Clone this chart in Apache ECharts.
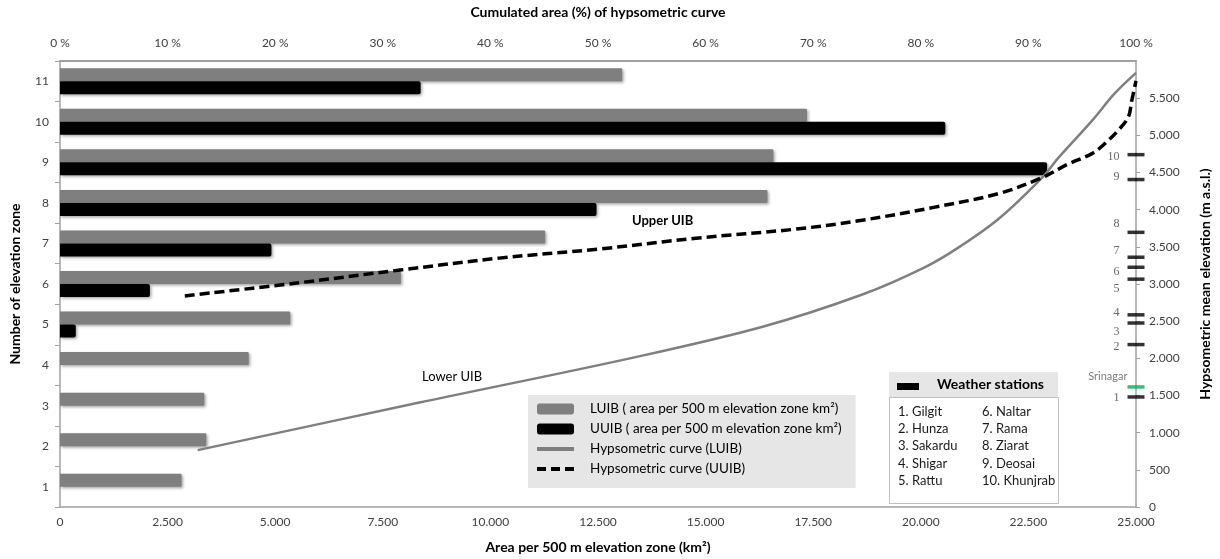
<!DOCTYPE html>
<html><head><meta charset="utf-8">
<script src="https://cdn.jsdelivr.net/npm/echarts@6/dist/echarts.min.js"></script>
<style>html,body{margin:0;padding:0;background:#fff}#c{width:1220px;height:559px}</style>
</head><body><div id="c"></div><script>
// ---- data ----
const categories = ['1','2','3','4','5','6','7','8','9','10','11'];
const luibArea = [2824, 3398, 3352, 4385, 5349, 7920, 11272, 16437, 16575, 17355, 13062];
const uuibArea = [null, null, null, null, 367, 2089, 4913, 12466, 22934, 20569, 8379];

const luibCurvePct  = [12.8, 33.4, 53.6, 65.3, 74.5, 80.5, 83.7, 87.3, 91.3, 92.8, 95.9, 98.0, 100];
const luibCurveElev = [765, 1405, 2020, 2425, 2855, 3235, 3510, 3885, 4435, 4700, 5195, 5560, 5840];

const uuibCurvePct  = [11.6, 22.0, 31.6, 40.8, 50.0, 59.1, 68.3, 74.5, 81.2, 87.3, 91.3, 93.6, 95.9, 97.1, 98.4, 99.3, 99.6, 100];
const uuibCurveElev = [2840, 3013, 3188, 3348, 3469, 3616, 3737, 3857, 4031, 4219, 4433, 4607, 4754, 4888, 5076, 5250, 5464, 5732];

const stationNumbers = ['1','2','3','4','5','6','7','8','9','10'];
const stationElev = [1480, 2185, 2475, 2585, 3065, 3225, 3360, 3695, 4405, 4740];
const stationNames = ['1. Gilgit','2. Hunza','3. Sakardu','4. Shigar','5. Rattu','6. Naltar','7. Rama','8. Ziarat','9. Deosai','10. Khunjrab'];
const srinagarName = 'Srinagar';
const srinagarElev = 1615;

const areaAxis = {min: 0, max: 25000, interval: 2500};
const pctAxis = {min: 0, max: 100, interval: 10};
const elevAxis = {min: 0, max: 6000, interval: 500};

// ---- styling (not data) ----
const stationLabelDy = [1, 2, 9, -2, 10, 5, -6, -8, -3, 2];
const FONT = 'Lato';
const AXIS_COLOR = '#a0a0a0';
const LABEL_COLOR = '#404040';
const NAME_STYLE = {fontFamily: FONT, fontSize: 14, fontWeight: 'bold', color: '#000'};

function fmt(v) { return String(v).replace(/\B(?=(\d{3})+(?!\d))/g, '.'); }
function zip(a, b) { return a.map((v, i) => [v, b[i]]); }

const chart = echarts.init(document.getElementById('c'), null, {renderer: 'canvas'});

const barShadow = {shadowColor: 'rgba(0,0,0,0.35)', shadowBlur: 3, shadowOffsetX: 1.5, shadowOffsetY: 1.5};
const hiddenSymbol = {color: 'rgba(0,0,0,0)', borderColor: 'rgba(0,0,0,0)', borderWidth: 0, opacity: 0};

const option = {
  animation: false,
  backgroundColor: '#fff',
  textStyle: {fontFamily: FONT},
  grid: {left: 56, right: 75, top: 60, bottom: 51, containLabel: false},
  xAxis: [
    {
      type: 'value', position: 'bottom', min: areaAxis.min, max: areaAxis.max, interval: areaAxis.interval,
      name: 'Area per 500 m elevation zone (km²)', nameLocation: 'middle', nameGap: 33,
      nameTextStyle: NAME_STYLE,
      axisLine: {show: true, onZero: false, lineStyle: {color: AXIS_COLOR, width: 1.5}},
      axisTick: {show: false}, splitLine: {show: false},
      axisLabel: {margin: 9, fontFamily: FONT, fontSize: 12, color: LABEL_COLOR, formatter: v => fmt(v)}
    },
    {
      type: 'value', position: 'top', min: pctAxis.min, max: pctAxis.max, interval: pctAxis.interval,
      name: 'Cumulated area (%) of hypsometric curve', nameLocation: 'middle', nameGap: 42,
      nameTextStyle: NAME_STYLE,
      axisLine: {show: true, onZero: false, lineStyle: {color: AXIS_COLOR, width: 2}},
      axisTick: {show: false}, splitLine: {show: false},
      axisLabel: {margin: 12, fontFamily: FONT, fontSize: 12, color: LABEL_COLOR, formatter: '{value} %'}
    }
  ],
  yAxis: [
    {
      type: 'category', position: 'left', data: categories,
      name: 'Number of elevation zone', nameLocation: 'middle', nameGap: 38, nameRotate: 90,
      nameTextStyle: NAME_STYLE,
      axisLine: {show: true, onZero: false, lineStyle: {color: AXIS_COLOR, width: 1.5}},
      axisTick: {show: true, length: 5, lineStyle: {color: AXIS_COLOR}},
      axisLabel: {margin: 11, fontFamily: FONT, fontSize: 12, color: LABEL_COLOR},
      splitLine: {show: false}
    },
    {
      type: 'value', position: 'right', min: elevAxis.min, max: elevAxis.max, interval: elevAxis.interval,
      name: 'Hypsometric mean elevation (m a.s.l.)', nameLocation: 'middle', nameGap: 62, nameRotate: 90,
      nameTextStyle: NAME_STYLE,
      axisLine: {show: true, onZero: false, lineStyle: {color: AXIS_COLOR, width: 1.5}},
      axisTick: {show: true, length: 4, lineStyle: {color: AXIS_COLOR}},
      axisLabel: {margin: 13, fontFamily: FONT, fontSize: 12, color: LABEL_COLOR, showMaxLabel: false, formatter: v => fmt(v)},
      splitLine: {show: false}
    }
  ],
  legend: {
    orient: 'vertical', left: 528, top: 395,
    backgroundColor: '#e6e6e6', padding: [7, 14, 12, 7],
    itemWidth: 37, itemHeight: 11, itemGap: 6,
    selectedMode: false,
    textStyle: {fontFamily: FONT, fontSize: 13.5, color: '#000', lineHeight: 14, padding: [0, 0, 0, 11]},
    data: [
      {name: 'LUIB ( area per 500 m elevation zone km²)'},
      {name: 'UUIB ( area per 500 m elevation zone km²)'},
      {name: 'Hypsometric curve (LUIB)', itemStyle: hiddenSymbol, lineStyle: {width: 4, color: '#7f7f7f', type: 'solid'}},
      {name: 'Hypsometric curve (UUIB)', itemStyle: hiddenSymbol, lineStyle: {width: 4, color: '#000', type: [9, 5]}}
    ]
  },
  series: [
    {
      name: 'LUIB ( area per 500 m elevation zone km²)', type: 'bar',
      xAxisIndex: 0, yAxisIndex: 0, data: luibArea,
      barWidth: 13, barGap: '0%',
      itemStyle: Object.assign({color: '#7f7f7f', borderRadius: [0, 1, 1, 0]}, barShadow)
    },
    {
      name: 'UUIB ( area per 500 m elevation zone km²)', type: 'bar',
      xAxisIndex: 0, yAxisIndex: 0, data: uuibArea,
      barWidth: 13, barGap: '0%',
      itemStyle: Object.assign({color: '#000000', borderRadius: [0, 2, 2, 0]}, barShadow)
    },
    {
      name: 'Hypsometric curve (LUIB)', type: 'line',
      xAxisIndex: 1, yAxisIndex: 1, data: zip(luibCurvePct, luibCurveElev),
      symbol: 'none', smooth: 0.35, clip: false, z: 5,
      itemStyle: {color: '#7f7f7f'},
      lineStyle: {color: '#7f7f7f', width: 2.5}
    },
    {
      name: 'Hypsometric curve (UUIB)', type: 'line',
      xAxisIndex: 1, yAxisIndex: 1, data: zip(uuibCurvePct, uuibCurveElev),
      symbol: 'none', smooth: 0.35, clip: false, z: 6,
      itemStyle: {color: '#000'},
      lineStyle: {color: '#000', width: 3.5, type: [10, 5], cap: 'butt'}
    },
    {
      name: 'stations', type: 'scatter', xAxisIndex: 1, yAxisIndex: 1, clip: false, z: 10,
      symbol: 'rect', symbolSize: [17, 3.5],
      itemStyle: {color: '#000'},
      silent: true,
      label: {show: true, position: 'left', distance: 8, fontFamily: 'Liberation Serif', fontSize: 12, color: LABEL_COLOR},
      data: stationElev.map((e, i) => ({
        value: [pctAxis.max, e],
        label: {formatter: stationNumbers[i], offset: [0, stationLabelDy[i]]}
      }))
    },
    {
      name: 'srinagar', type: 'scatter', xAxisIndex: 1, yAxisIndex: 1, clip: false, z: 10,
      symbol: 'rect', symbolSize: [17, 3.5],
      itemStyle: {color: '#00b050'},
      silent: true,
      label: {show: true, position: 'left', distance: 0, offset: [0, -10], fontFamily: FONT, fontSize: 11, color: '#595959', formatter: srinagarName},
      data: [[pctAxis.max, srinagarElev]]
    }
  ],
  graphic: [
    {type: 'text', left: 632, top: 214, style: {text: 'Upper UIB', fontFamily: FONT, fontSize: 13, fontWeight: 'bold', fill: '#000'}},
    {type: 'text', left: 422, top: 370, style: {text: 'Lower UIB', fontFamily: FONT, fontSize: 13, fill: '#000'}},
    // weather stations box
    {type: 'rect', left: 889, top: 372, shape: {width: 169, height: 25}, style: {fill: '#e6e6e6'}, z: 20},
    {type: 'rect', left: 897, top: 383, shape: {width: 22, height: 7}, style: {fill: '#000'}, z: 21},
    {type: 'text', left: 937, top: 377, style: {text: 'Weather stations', fontFamily: FONT, fontSize: 14, fontWeight: 'bold', fill: '#000'}, z: 21},
    {type: 'rect', left: 889, top: 397, shape: {width: 169, height: 106}, style: {fill: '#fff', stroke: '#bfbfbf', lineWidth: 1}, z: 20},
    ...stationNames.map((t, i) => ({
      type: 'text', left: i < 5 ? 898 : 982, top: 405 + (i % 5) * 17.3,
      style: {text: t, fontFamily: FONT, fontSize: 13, fill: '#1a1a1a'}, z: 21
    }))
  ]
};
chart.setOption(option);
</script></body></html>
